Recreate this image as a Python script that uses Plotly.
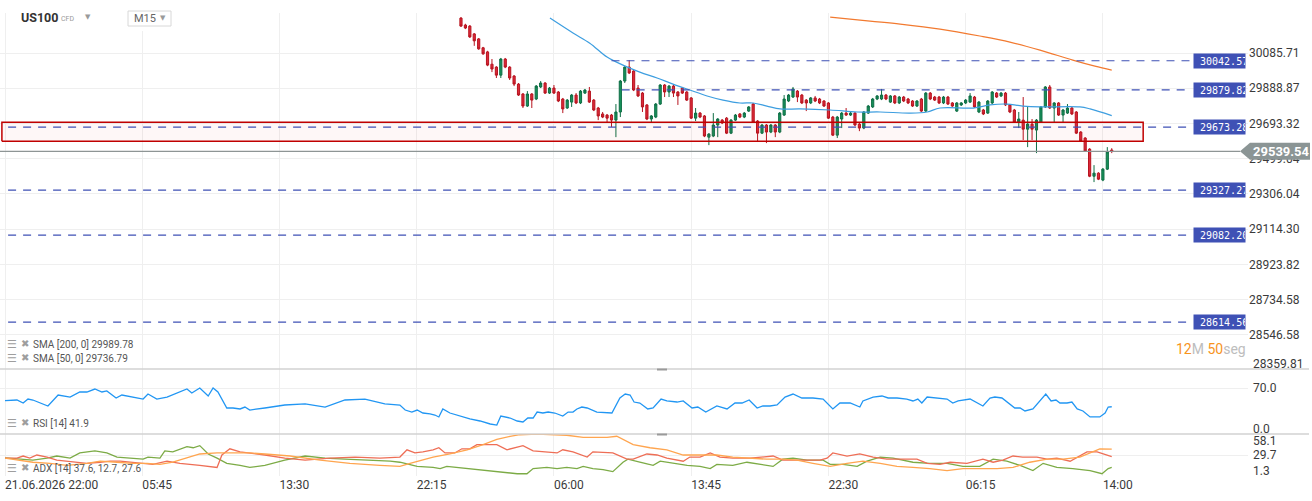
import math
import plotly.graph_objects as go

W, H = 1312, 501
PLOT_W = 1248  # plot area width (paper coordinates span this)

# ---------------- data ----------------
first_bar = 103
opens = [30282, 30243, 30237, 30193, 30165, 30115, 30092, 30023, 30007, 29962,
         30052, 30007, 29957, 29912, 29857, 29790, 29857, 29829, 29896, 29918,
         29862, 29890, 29868, 29829, 29779, 29812, 29851, 29807, 29862, 29873,
         29823, 29779, 29746, 29740, 29740, 29712, 29757, 29929, 30007, 29985,
         29890, 29862, 29796, 29718, 29729, 29801, 29907, 29868, 29901, 29868,
         29890, 29868, 29835, 29723, 29751, 29735, 29618, 29624, 29685, 29712,
         29723, 29640, 29712, 29746, 29729, 29762, 29801, 29707, 29640, 29685,
         29646, 29685, 29646, 29740, 29818, 29840, 29873, 29851, 29823, 29807,
         29835, 29829, 29818, 29807, 29729, 29629, 29718, 29751, 29740, 29751,
         29690, 29668, 29751, 29785, 29829, 29829, 29851, 29812, 29846, 29807,
         29840, 29829, 29818, 29790, 29829, 29762, 29862, 29840, 29840, 29807,
         29840, 29807, 29762, 29796, 29807, 29812, 29840, 29757, 29768, 29751,
         29807, 29862, 29846, 29862, 29796, 29768, 29701, 29712, 29662, 29690,
         29657, 29701, 29785, 29896, 29779, 29807, 29740, 29751, 29779, 29757,
         29646, 29613, 29552, 29403, 29420, 29382, 29442, 29547]
highs = [30288, 30250, 30243, 30198, 30170, 30120, 30098, 30052, 30012, 30058,
         30058, 30012, 29962, 29918, 29862, 29873, 29862, 29907, 29929, 29923,
         29896, 29907, 29873, 29835, 29829, 29857, 29862, 29879, 29885, 29896,
         29829, 29785, 29757, 29746, 29746, 29801, 29935, 30012, 30046, 29990,
         29907, 29868, 29801, 29740, 29807, 29912, 29912, 29907, 29907, 29873,
         29896, 29873, 29840, 29779, 29757, 29740, 29640, 29751, 29723, 29718,
         29729, 29718, 29746, 29751, 29757, 29790, 29807, 29712, 29690, 29690,
         29690, 29690, 29757, 29851, 29857, 29896, 29879, 29857, 29829, 29840,
         29846, 29835, 29823, 29812, 29735, 29735, 29757, 29779, 29757, 29757,
         29696, 29762, 29796, 29835, 29851, 29885, 29857, 29851, 29851, 29846,
         29846, 29835, 29823, 29823, 29835, 29868, 29868, 29846, 29846, 29846,
         29846, 29812, 29812, 29812, 29829, 29862, 29846, 29818, 29774, 29823,
         29873, 29868, 29868, 29868, 29801, 29774, 29757, 29840, 29785, 29718,
         29718, 29790, 29901, 29907, 29812, 29812, 29774, 29801, 29785, 29762,
         29651, 29618, 29557, 29464, 29425, 29448, 29563, 29557]
lows = [30232, 30220, 30170, 30126, 30104, 30076, 30012, 29979, 29946, 29946,
        30001, 29935, 29901, 29846, 29779, 29785, 29779, 29823, 29890, 29857,
        29857, 29857, 29812, 29751, 29774, 29785, 29801, 29801, 29857, 29807,
        29762, 29712, 29723, 29701, 29674, 29618, 29729, 29918, 29968, 29873,
        29840, 29757, 29712, 29701, 29723, 29796, 29840, 29840, 29840, 29796,
        29857, 29818, 29718, 29707, 29723, 29618, 29574, 29618, 29618, 29690,
        29635, 29635, 29707, 29723, 29723, 29757, 29696, 29591, 29635, 29585,
        29640, 29618, 29640, 29735, 29812, 29835, 29812, 29801, 29762, 29801,
        29812, 29801, 29785, 29718, 29624, 29613, 29668, 29735, 29735, 29679,
        29651, 29662, 29746, 29779, 29823, 29823, 29823, 29807, 29801, 29801,
        29812, 29801, 29785, 29785, 29757, 29757, 29823, 29818, 29801, 29801,
        29796, 29785, 29757, 29790, 29801, 29807, 29779, 29751, 29740, 29746,
        29801, 29835, 29840, 29790, 29751, 29696, 29668, 29602, 29563, 29602,
        29530, 29696, 29779, 29774, 29701, 29735, 29701, 29746, 29740, 29635,
        29591, 29536, 29398, 29371, 29382, 29376, 29437, 29530]
closes = [30237, 30226, 30176, 30154, 30109, 30081, 30018, 29996, 29962, 30052,
          30007, 29946, 29912, 29851, 29790, 29857, 29823, 29901, 29918, 29862,
          29890, 29862, 29818, 29774, 29823, 29851, 29807, 29873, 29879, 29812,
          29768, 29735, 29729, 29723, 29712, 29757, 29929, 30007, 29974, 29879,
          29846, 29785, 29718, 29735, 29801, 29907, 29868, 29901, 29862, 29846,
          29862, 29823, 29723, 29751, 29729, 29624, 29635, 29685, 29718, 29696,
          29640, 29712, 29740, 29729, 29751, 29785, 29701, 29640, 29685, 29646,
          29685, 29646, 29751, 29829, 29851, 29885, 29840, 29807, 29807, 29835,
          29818, 29807, 29790, 29723, 29629, 29729, 29751, 29740, 29751, 29685,
          29668, 29757, 29790, 29829, 29846, 29851, 29829, 29846, 29807, 29840,
          29818, 29807, 29790, 29818, 29762, 29862, 29829, 29823, 29807, 29840,
          29801, 29790, 29807, 29807, 29823, 29846, 29785, 29812, 29746, 29818,
          29868, 29840, 29862, 29796, 29757, 29701, 29718, 29662, 29690, 29662,
          29712, 29785, 29896, 29779, 29807, 29740, 29768, 29779, 29746, 29640,
          29596, 29541, 29403, 29420, 29387, 29442, 29536, 29539.54]

sma50_bar = [123.1, 128.3, 132.1, 136.0, 139.6, 143.4, 147.3, 150.9, 154.7, 158.6,
             162.2, 166.0, 169.0, 172.1, 175.1, 179.6, 186.4, 192.5, 197.7, 204.4,
             208.3, 211.2, 218.7, 222.5, 226.3, 229.9, 233.8, 242.8, 245.1, 250.0]
sma50_val = [30282, 30198, 30141, 30063, 30018, 29979, 29946, 29912, 29879, 29846,
             29823, 29807, 29807, 29790, 29774, 29774, 29768, 29757, 29757, 29751,
             29757, 29779, 29779, 29796, 29801, 29790, 29785, 29785, 29774, 29736.79]
sma200_bar = [186.4, 195.4, 202.2, 211.2, 220.2, 227.0, 233.8, 241.2, 246.2, 250.0]
sma200_val = [30288, 30265, 30248, 30220, 30181, 30147, 30102, 30046, 30012, 29989.78]

levels = [30042.57, 29879.82, 29673.28, 29327.27, 29082.20, 28614.56]
level_from_bar = [137.0, 139.3, 0.7, 0.7, 0.7, 0.7]
level_to_bar = 267.7
zone_low, zone_high = 29595, 29700
zone_from_bar, zone_to_bar = -0.7, 257.1
last_price = 29539.54

price_ticks = [30085.71, 29888.87, 29693.32, 29499.04, 29306.04,
               29114.30, 28923.82, 28734.58, 28546.58]
price_bottom_label = "28359.81"

time_tick_bars = [0, 31, 62, 93, 124, 155, 186, 217, 248]
time_tick_text = ["21.06.2026 22:00", "05:45", "13:30", "22:15", "06:00",
                  "13:45", "22:30", "06:15", "14:00"]

rsi_bar = [0.0, 2.7, 4.1, 5.2, 6.3, 7.9, 9.7, 12.0, 14.7, 16.9, 18.5, 20.3, 21.9, 23.0,
           25.1, 26.4, 28.9, 31.2, 32.3, 34.3, 36.6, 39.1, 41.1, 42.2, 44.0, 45.9, 47.0,
           48.1, 50.1, 51.5, 53.1, 54.2, 55.3, 58.7, 63.2, 67.8, 72.3, 76.8, 81.3, 85.8,
           89.2, 90.4, 91.9, 93.1, 94.4, 96.0, 97.1, 98.0, 98.9, 100.5, 102.8, 105.0,
           107.3, 109.6, 111.1, 112.0, 114.1, 115.7, 117.0, 118.1, 119.3, 120.2, 121.5,
           122.7, 124.2, 126.0, 127.2, 128.3, 129.2, 130.3, 131.5, 133.7, 137.1, 138.9,
           140.1, 141.2, 142.1, 143.4, 145.2, 146.4, 148.2, 149.5, 151.8, 153.2, 155.2,
           156.5, 158.3, 160.8, 163.1, 164.9, 166.5, 168.1, 169.9, 171.2, 172.8, 174.4,
           176.2, 178.0, 180.0, 182.5, 184.8, 187.0, 188.6, 190.9, 193.1, 193.8, 196.1,
           198.1, 199.5, 201.5, 203.7, 205.1, 206.2, 207.1, 208.3, 210.5, 212.8, 214.1,
           215.3, 218.0, 219.6, 220.9, 222.5, 223.6, 225.2, 226.6, 228.1, 229.3, 230.4,
           232.2, 235.1, 236.3, 237.4, 238.3, 239.9, 241.0, 242.2, 243.5, 245.1, 247.3,
           248.5, 249.2, 250.0]
rsi_val = [51.2, 52.3, 47.7, 53.8, 52.3, 47.7, 43.1, 60.0, 56.9, 64.6, 64.6, 69.2, 64.6, 66.2,
           55.4, 60.0, 56.9, 53.8, 61.5, 53.8, 56.9, 63.1, 69.2, 63.1, 70.8, 58.5, 70.8,
           64.6, 40.0, 40.0, 38.5, 41.5, 36.9, 40.0, 44.6, 46.2, 41.5, 52.3, 53.8, 46.2,
           44.6, 36.9, 33.8, 36.9, 32.3, 30.8, 29.2, 26.2, 38.5, 32.3, 27.7, 23.1,
           20.0, 15.4, 13.8, 27.7, 24.6, 20.0, 18.5, 24.6, 24.6, 33.8, 32.3,
           33.8, 32.3, 27.7, 33.8, 33.8, 38.5, 41.5, 40.0, 33.8, 32.3, 55.4,
           61.5, 60.0, 49.2, 47.7, 38.5, 40.0, 53.8, 50.8, 49.2, 50.8, 40.0,
           41.5, 33.8, 43.1, 38.5, 47.7, 47.7, 52.3, 40.0, 43.1, 43.1, 44.6,
           56.9, 61.5, 55.4, 55.4, 53.8, 38.5, 47.7, 47.7, 41.5, 50.8, 56.9,
           58.5, 55.4, 55.4, 53.8, 50.8, 53.8, 47.7, 56.9, 55.4, 53.8, 47.7,
           50.8, 53.8, 47.7, 43.1, 55.4, 56.9, 55.4, 47.7, 40.0, 40.0, 35.4,
           38.5, 61.5, 50.8, 52.3, 47.7, 47.7, 49.2, 38.5, 35.4, 26.2, 26.2,
           32.3, 41.5, 41.9]

adx_bar = [0, 3.4, 6.3, 10.2, 14.0, 18.5, 21.5, 25.3, 28.9, 32.1, 35.0, 37.9, 41.1, 44.0,
           47.9, 51.5, 55.3, 58.7, 64.4, 71.2, 77.9, 84.7, 89.2, 91.5, 94.4, 96.7, 100.5,
           104.4, 108.0, 111.1, 114.1, 116.3, 120.2, 123.8, 126.9, 130.6, 136.0, 138.2,
           141.9, 145.7, 149.5, 153.2, 157.0, 160.8, 164.4, 168.3, 172.1, 175.7, 178.9,
           182.5, 186.4, 190.2, 193.8, 197.7, 201.5, 205.1, 208.9, 212.8, 216.4, 220.2,
           224.1, 227.7, 231.5, 235.4, 239.0, 242.8, 245.1, 247.3, 250.0]
adx_val = [25.4, 22.6, 19.8, 18.3, 15.5, 18.3, 21.2, 19.8, 18.3, 18.3, 16.9, 19.8, 25.4, 31.1,
           32.5, 32.5, 32.5, 31.1, 28.3, 22.6, 18.3, 15.5, 14.1, 18.3, 22.6, 26.9, 31.1,
           36.8, 43.9, 51.0, 55.3, 57.4, 58.1, 57.4, 56.7, 53.8, 53.8, 55.3,
           43.9, 39.6, 36.8, 29.7, 29.7, 29.7, 26.9, 25.4, 24.0, 24.0, 22.6,
           18.3, 14.1, 18.3, 21.2, 18.3, 14.1, 12.7, 11.2, 8.4, 11.2, 11.2,
           11.2, 12.7, 19.8, 24.0, 24.0, 26.9, 32.5, 38.2, 37.6]
pdi_bar = [0, 3.4, 6.3, 9.5, 11.7, 14.7, 16.9, 20.3, 23.0, 25.3, 28.9, 31.2, 32.3, 35.0,
           36.1, 37.9, 41.1, 42.5, 44.0, 45.9, 47.9, 50.1, 53.1, 55.3, 58.7, 63.2, 67.8,
           72.3, 76.8, 82.4, 87.0, 89.2, 93.1, 96.7, 98.3, 99.8, 104.4, 108.0, 111.8,
           115.7, 117.9, 119.3, 122.4, 124.7, 126.9, 129.2, 130.6, 132.8, 135.1, 137.3,
           139.6, 140.7, 143.4, 146.4, 148.0, 150.9, 154.1, 157.0, 159.3, 160.8, 164.4,
           167.6, 170.5, 173.5, 175.7, 178.0, 181.2, 184.8, 186.4, 189.3, 192.5, 194.7,
           197.7, 200.6, 205.1, 208.9, 212.8, 216.4, 220.2, 223.2, 226.3, 229.3, 232.2,
           234.5, 237.6, 241.2, 245.1, 247.8, 249.2, 250.0]
pdi_val = [25.9, 24.0, 22.6, 25.4, 28.3, 25.4, 32.5, 35.4, 32.5, 26.9, 25.4, 24.0, 26.9, 25.4,
           35.4, 34.0, 41.1, 39.6, 42.5, 31.1, 25.4, 18.3, 15.5, 12.7, 15.5, 22.6, 28.3,
           25.4, 24.0, 22.6, 21.2, 19.8, 14.1, 12.7, 11.2, 14.1, 11.2, 8.4, 5.6,
           4.1, 4.1, 11.2, 12.7, 11.2, 12.7, 11.2, 14.1, 11.2, 9.8, 7.0,
           19.8, 24.0, 19.8, 15.5, 21.2, 18.3, 15.5, 14.1, 11.2, 16.9, 15.5,
           19.8, 16.9, 14.1, 24.0, 25.4, 22.6, 22.6, 16.9, 16.9, 14.1, 21.2,
           26.9, 25.4, 19.8, 18.3, 18.3, 14.1, 14.1, 24.0, 21.2, 15.5, 8.4,
           18.3, 12.7, 11.2, 8.4, 4.1, 11.2, 12.7]
mdi_bar = [0, 2.7, 4.1, 5.6, 7.2, 9.5, 11.7, 15.4, 18.5, 21.5, 23.7, 26.0, 28.2, 30.5,
           33.4, 36.6, 39.5, 44.0, 47.9, 49.0, 50.8, 53.1, 55.3, 58.7, 63.2, 67.8, 73.4,
           79.1, 84.7, 89.2, 90.8, 92.6, 94.4, 96.7, 98.0, 99.4, 101.6, 103.2, 105.0,
           106.6, 108.9, 111.1, 113.4, 117.0, 119.3, 122.4, 124.7, 126.0, 128.3, 131.5,
           132.8, 137.3, 140.5, 141.9, 145.0, 147.3, 149.5, 153.2, 154.7, 157.0, 159.3,
           161.5, 164.4, 168.3, 170.5, 173.5, 175.7, 178.0, 184.1, 185.7, 187.0, 190.2,
           193.1, 196.1, 199.2, 202.2, 206.0, 208.3, 211.2, 213.5, 217.3, 220.9, 223.2,
           225.4, 227.7, 229.9, 233.1, 235.4, 237.6, 240.6, 242.2, 244.4, 246.7, 248.9,
           250.0]
mdi_val = [25.4, 25.4, 28.3, 25.4, 29.7, 26.9, 22.6, 19.8, 18.3, 19.8, 21.2, 21.2, 19.8, 18.3,
           16.9, 21.2, 18.3, 15.5, 12.7, 29.7, 38.2, 34.0, 32.5, 29.7, 25.4, 22.6, 25.4,
           26.9, 25.4, 26.9, 36.8, 32.5, 34.0, 36.8, 39.6, 32.5, 32.5, 38.2, 38.2,
           43.9, 43.9, 43.9, 36.8, 42.5, 35.4, 34.0, 32.5, 36.8, 34.0, 26.9,
           34.0, 32.5, 24.0, 24.0, 31.1, 29.7, 25.4, 21.2, 26.9, 26.9, 32.5,
           26.9, 25.4, 25.4, 26.9, 28.3, 22.6, 22.6, 22.6, 25.4, 32.5, 28.3,
           31.1, 26.9, 24.0, 24.0, 24.0, 18.3, 16.9, 19.8, 18.3, 24.0, 19.8,
           22.6, 28.3, 26.9, 26.9, 24.0, 25.4, 21.2, 26.9, 34.0, 34.0, 29.7,
           27.6]

# ---------------- layout helpers ----------------
def px(x):
    return x / PLOT_W

def py(y):
    return 1 - y / H

MAIN_D = [py(369), py(13)]
RSI_D = [py(434), py(369)]
ADX_D = [py(476), py(434)]
XR = [-1.129, 280.78]
MAIN_R = [4.452799, 4.481597]
FONT = "Roboto, Arial, sans-serif"
TXT = "#3a3a3a"
GRID = "#efefef"

fig = go.Figure()

# candles
fig.add_trace(go.Candlestick(
    x=list(range(first_bar, first_bar + len(opens))),
    open=opens, high=highs, low=lows, close=closes,
    increasing=dict(line=dict(color="#0f6e45", width=1), fillcolor="#17925b"),
    decreasing=dict(line=dict(color="#b7141f", width=1), fillcolor="#dc2a3a"),
    whiskerwidth=0, hoverinfo="skip", xaxis="x", yaxis="y", showlegend=False))

# zone
fig.add_trace(go.Scatter(
    x=[zone_from_bar, zone_to_bar, zone_to_bar, zone_from_bar, zone_from_bar],
    y=[zone_low, zone_low, zone_high, zone_high, zone_low],
    mode="lines", fill="toself", fillcolor="rgba(230,40,40,0.035)",
    line=dict(color="#c00000", width=1.5), hoverinfo="skip", xaxis="x", yaxis="y"))

# SMAs
fig.add_trace(go.Scatter(x=sma50_bar, y=sma50_val, mode="lines",
                         line=dict(color="#3d9ee0", width=1.2, shape="spline"),
                         hoverinfo="skip", xaxis="x", yaxis="y"))
fig.add_trace(go.Scatter(x=sma200_bar, y=sma200_val, mode="lines",
                         line=dict(color="#f27a30", width=1.2, shape="spline"),
                         hoverinfo="skip", xaxis="x", yaxis="y"))

# levels
for lv, x0 in zip(levels, level_from_bar):
    fig.add_trace(go.Scatter(x=[x0, level_to_bar], y=[lv, lv], mode="lines",
                             line=dict(color="#3f51b5", width=1.1, dash="8px,7px"),
                             hoverinfo="skip", xaxis="x", yaxis="y"))

# current price line
fig.add_trace(go.Scatter(x=[XR[0], 279.0], y=[last_price, last_price], mode="lines",
                         line=dict(color="#8e9595", width=1.3), hoverinfo="skip",
                         xaxis="x", yaxis="y"))

# RSI
fig.add_trace(go.Scatter(x=rsi_bar, y=rsi_val, mode="lines",
                         line=dict(color="#2196f3", width=1.3), hoverinfo="skip",
                         xaxis="x2", yaxis="y2"))

# ADX
fig.add_trace(go.Scatter(x=pdi_bar, y=pdi_val, mode="lines",
                         line=dict(color="#7cab46", width=1.3), hoverinfo="skip",
                         xaxis="x3", yaxis="y3"))
fig.add_trace(go.Scatter(x=mdi_bar, y=mdi_val, mode="lines",
                         line=dict(color="#ee6e56", width=1.3), hoverinfo="skip",
                         xaxis="x3", yaxis="y3"))
fig.add_trace(go.Scatter(x=adx_bar, y=adx_val, mode="lines",
                         line=dict(color="#ffa54f", width=1.3), hoverinfo="skip",
                         xaxis="x3", yaxis="y3"))

xcommon = dict(range=XR, tickvals=time_tick_bars, showgrid=True, gridcolor=GRID,
               gridwidth=1, zeroline=False, showline=False, ticks="", fixedrange=True)

fig.update_layout(
    width=W, height=H, margin=dict(l=0, r=W - PLOT_W, t=0, b=0),
    paper_bgcolor="white", plot_bgcolor="white", showlegend=False,
    font=dict(family=FONT, color=TXT, size=12),
    xaxis=dict(domain=[0, 1], anchor="y", showticklabels=False,
               rangeslider=dict(visible=False), **xcommon),
    xaxis2=dict(domain=[0, 1], anchor="y2", showticklabels=False, **xcommon),
    xaxis3=dict(domain=[0, 1], anchor="y3", showticklabels=True, ticktext=time_tick_text,
                ticklabelposition="outside right",
                tickfont=dict(family=FONT, size=12, color=TXT), **xcommon),
    yaxis=dict(domain=MAIN_D, anchor="x", type="log", range=MAIN_R, side="right",
               tickvals=price_ticks, ticktext=[f"{v:.2f}" for v in price_ticks],
               showgrid=True, gridcolor=GRID, zeroline=False, ticks="",
               tickfont=dict(family=FONT, size=12, color=TXT), fixedrange=True),
    yaxis2=dict(domain=RSI_D, anchor="x2", range=[0, 100], side="right",
                tickvals=[0, 70], showticklabels=False, showgrid=True, gridcolor=GRID,
                zeroline=False, ticks="", fixedrange=True),
    yaxis3=dict(domain=ADX_D, anchor="x3", range=[1.0, 58.4], side="right",
                tickvals=[1.3, 29.7, 58.1], showticklabels=False, showgrid=True,
                gridcolor=GRID, zeroline=False, ticks="", fixedrange=True),
)

shapes = []
# header cover
shapes.append(dict(type="rect", xref="paper", yref="paper", x0=px(10), x1=px(176),
                   y0=py(31), y1=py(0), fillcolor="white", line=dict(width=0), layer="above"))
shapes.append(dict(type="rect", xref="paper", yref="paper", x0=px(128), x1=px(171),
                   y0=py(26), y1=py(11), fillcolor="white",
                   line=dict(color="#d8d8d8", width=1), layer="above"))
# separators
for ys in (369, 434):
    shapes.append(dict(type="line", xref="paper", yref="paper", x0=0, x1=px(1309),
                       y0=py(ys), y1=py(ys), line=dict(color="#d2d2d2", width=1.5),
                       layer="above"))
    shapes.append(dict(type="rect", xref="paper", yref="paper", x0=px(657), x1=px(667),
                       y0=py(ys + 1.5), y1=py(ys - 0.5), fillcolor="#9a9a9a",
                       line=dict(width=0), layer="above"))
# current price tag
shapes.append(dict(type="path", xref="paper", yref="y", xsizemode="pixel", ysizemode="pixel",
                   xanchor=px(1240), yanchor=last_price,
                   path="M 0 0 L 10 8.5 L 70 8.5 L 70 -8.5 L 10 -8.5 Z",
                   fillcolor="#8b9595", line=dict(width=0), layer="above"))

ann = []
# level tags
for lv in levels:
    ann.append(dict(xref="paper", yref="y", x=px(1193), y=math.log10(lv),
                    xanchor="left", yanchor="middle", text="\u00a0" + f"{lv:.2f}",
                    showarrow=False, bgcolor="#3f51b5", width=51, height=14,
                    align="left", borderpad=0,
                    font=dict(family="DejaVu Sans Mono", size=10, color="white")))
ann.append(dict(xref="paper", yref="y", x=px(1251), y=math.log10(last_price),
                xanchor="left", yanchor="middle", text=f"<b>{last_price:.2f}</b>",
                showarrow=False, font=dict(family=FONT, size=13, color="white")))
ann.append(dict(xref="paper", yref="paper", x=px(1251), y=py(364), xanchor="left",
                yanchor="middle", text=price_bottom_label, showarrow=False,
                font=dict(family=FONT, size=12, color=TXT)))
# indicator axis labels
for t, yy in (("70.0", 388), ("0.0", 429), ("58.1", 441), ("29.7", 455), ("1.3", 471)):
    ann.append(dict(xref="paper", yref="paper", x=px(1251), y=py(yy), xanchor="left",
                    yanchor="middle", text=t, showarrow=False,
                    font=dict(family=FONT, size=12, color=TXT)))
# indicator legends
for t, yy in (("SMA [200, 0] 29989.78", 344), ("SMA [50, 0] 29736.79", 358),
              ("RSI [14] 41.9", 423), ("ADX [14] 37.6, 12.7, 27.6", 468)):
    ann.append(dict(xref="paper", yref="paper", x=px(5), y=py(yy), xanchor="left",
                    yanchor="middle", text="\u2630", showarrow=False,
                    font=dict(family="DejaVu Sans", size=11, color="#9e9e9e")))
    ann.append(dict(xref="paper", yref="paper", x=px(18.5), y=py(yy - 0.5), xanchor="left",
                    yanchor="middle", text="\u2716", showarrow=False,
                    font=dict(family="DejaVu Sans", size=10, color="#9e9e9e")))
    ann.append(dict(xref="paper", yref="paper", x=px(31), y=py(yy), xanchor="left",
                    yanchor="middle", text=t, showarrow=False,
                    font=dict(family=FONT, size=10, color="#555555")))
# header
ann.append(dict(xref="paper", yref="paper", x=px(19), y=py(18), xanchor="left",
                yanchor="middle", text="<b>US100</b>", showarrow=False,
                font=dict(family=FONT, size=12.5, color="#333333")))
ann.append(dict(xref="paper", yref="paper", x=px(59), y=py(19), xanchor="left",
                yanchor="middle", text="CFD", showarrow=False,
                font=dict(family=FONT, size=7, color="#9a9a9a")))
ann.append(dict(xref="paper", yref="paper", x=px(83), y=py(17), xanchor="left",
                yanchor="middle", text="\u25bc", showarrow=False,
                font=dict(family="DejaVu Sans", size=7, color="#9a9a9a")))
ann.append(dict(xref="paper", yref="paper", x=px(132), y=py(18.5), xanchor="left",
                yanchor="middle", text="M15", showarrow=False,
                font=dict(family=FONT, size=11, color="#666666")))
ann.append(dict(xref="paper", yref="paper", x=px(158), y=py(18), xanchor="left",
                yanchor="middle", text="\u25bc", showarrow=False,
                font=dict(family="DejaVu Sans", size=7, color="#9a9a9a")))
# countdown
ann.append(dict(xref="paper", yref="paper", x=px(1174), y=py(349), xanchor="left",
                yanchor="middle", showarrow=False,
                text=("<span style='color:#f7941d'>12</span><span style='color:#bdbdbd'>M</span> "
                      "<span style='color:#f7941d'>50</span><span style='color:#bdbdbd'>seg</span>"),
                font=dict(family=FONT, size=14)))

fig.update_layout(shapes=shapes, annotations=ann)
fig.write_html("out.html")
